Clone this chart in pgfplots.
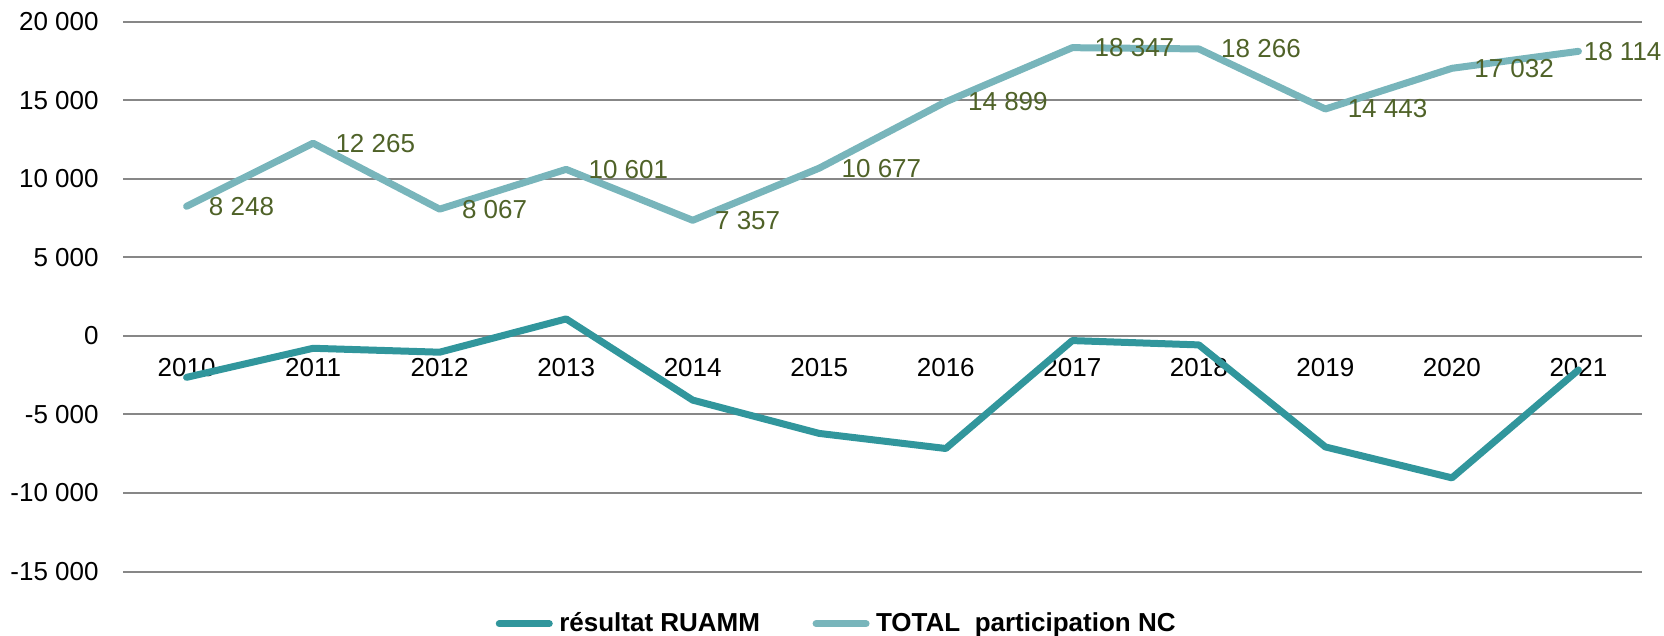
\documentclass[border=0pt]{standalone}
\usepackage{pgfplots}
\pgfplotsset{compat=1.18}
\usepackage{pgfplotstable}
\usepackage{fontspec}
\setmainfont{Liberation Sans}
\definecolor{ruamm}{HTML}{31969C}
\definecolor{total}{HTML}{78B5BB}
\definecolor{lbl}{HTML}{4F6228}
\definecolor{gridgray}{HTML}{878787}
\pgfplotsset{
  lbls/.style={draw=none, forget plot, point meta=explicit,
    nodes near coords={\pgfmathprintnumber[fixed,precision=0,1000 sep={~},assume math mode=true]{\pgfplotspointmeta}},
    every node near coord/.append style={anchor=west, xshift=#1, text=lbl, inner sep=0pt, font=\fontsize{13bp}{15bp}\selectfont}},
}
\pgfplotstableread[col sep=comma]{
x,ruamm,total
0,-2640,8248
1,-790,12265
2,-1040,8067
3,1080,10601
4,-4090,7357
5,-6210,10677
6,-7170,14899
7,-300,18347
8,-575,18266
9,-7070,14443
10,-9040,17032
11,-2170,18114
}\datatable

\begin{document}
\begin{tikzpicture}
\path[use as bounding box] (0,0) rectangle (832bp,318bp);
\begin{axis}[
  at={(61.65bp,32.25bp)}, anchor=south west,
  scale only axis, width=759.2bp, height=274.9bp,
  xmin=-0.5, xmax=11.5, ymin=-15000, ymax=20000,
  xtick={0,1,2,3,4,5,6,7,8,9,10,11},
  xticklabels={2010,2011,2012,2013,2014,2015,2016,2017,2018,2019,2020,2021},
  ytick={-15000,-10000,-5000,0,5000,10000,15000,20000},
  yticklabels={-15~000,-10~000,-5~000,0,5~000,10~000,15~000,20~000},
  scaled y ticks=false,
  ymajorgrids, grid style={gridgray, line width=1bp},
  axis line style={draw=none},
  major tick length=0pt,
  tick label style={font=\fontsize{13bp}{15bp}\selectfont, inner sep=0pt, text=black},
  yticklabel style={anchor=east, xshift=-12.15bp},
  xticklabel style={anchor=center, yshift=102.2bp},
  clip=false,
  legend columns=2,
  legend style={at={(0.468,-0.095)}, anchor=center, draw=none, fill=none, inner sep=0pt,
    font=\bfseries\fontsize{13bp}{15bp}\selectfont, nodes={inner sep=0pt},
    /tikz/every even column/.append style={column sep=24.5bp},
    /tikz/every odd column/.append style={column sep=1.5bp}},
  legend image code/.code={\path (0bp,0bp) (28.5bp,0bp); \draw[#1, line cap=round] (1.75bp,0bp) -- (26.75bp,0bp);},
]
\addplot[ruamm, line width=3.5bp, line join=round, line cap=round] table[x=x,y=ruamm]{\datatable};
\addlegendentry{résultat RUAMM}
\addplot[total, line width=3.5bp, line join=round, line cap=round] table[x=x,y=total]{\datatable};
\addlegendentry{TOTAL\ \ participation NC}
\addplot[lbls=11bp, restrict x to domain=-0.5:10.5] table[x=x,y=total,meta=total]{\datatable};
\addplot[lbls=2.5bp, restrict x to domain=10.5:11.5] table[x=x,y=total,meta=total]{\datatable};
\end{axis}
\end{tikzpicture}
\end{document}
